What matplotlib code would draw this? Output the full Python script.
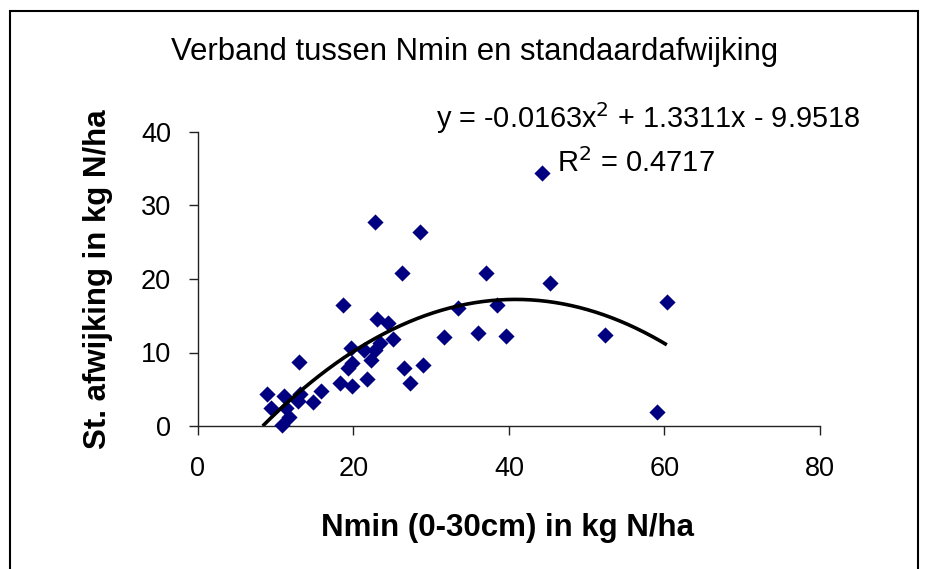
import numpy as np
import matplotlib
matplotlib.use("Agg")
import matplotlib.pyplot as plt
from matplotlib.patches import Rectangle

# Data
nmin = [8.9, 9.4, 11.0, 11.3, 11.7, 10.8, 13.0, 13.1, 12.9, 14.8, 15.8,
        18.7, 18.2, 19.8, 19.3, 19.8, 19.7, 21.3, 22.8, 22.2, 21.8, 23.0,
        24.4, 25.1, 23.4, 26.2, 22.8, 28.5, 26.5, 29.0, 27.3, 31.7, 33.5,
        36.0, 37.0, 38.5, 39.6, 44.3, 45.3, 52.3, 59.0, 60.3]
stdev = [4.3, 2.5, 4.1, 2.4, 1.2, 0.2, 8.75, 4.4, 3.4, 3.3, 4.7,
         16.4, 5.8, 5.5, 7.85, 8.6, 10.6, 10.3, 10.4, 9.0, 6.35, 14.5,
         14.0, 11.8, 11.25, 20.8, 27.8, 26.4, 7.9, 8.3, 5.8, 12.1, 16.1,
         12.7, 20.8, 16.4, 12.3, 34.4, 19.4, 12.4, 1.95, 16.9]

# Trendline coefficients (highest power first)
coef = [-0.0163, 1.3311, -9.9518]
r2 = 0.4717

title = "Verband tussen Nmin en standaardafwijking"
xlabel = "Nmin (0-30cm) in kg N/ha"
ylabel = "St. afwijking in kg N/ha"
xticks = [0, 20, 40, 60, 80]
yticks = [0, 10, 20, 30, 40]

plt.rcParams['font.family'] = ['Liberation Sans', 'DejaVu Sans']

W, H = 928, 569
fig = plt.figure(figsize=(W / 100, H / 100), dpi=100)
fig.patch.set_facecolor('white')

# outer chart border (bottom edge lies outside the image)
fig.add_artist(Rectangle((10 / W, -10 / H), 908 / W, (H - 11 + 10) / H,
                         transform=fig.transFigure, fill=False,
                         edgecolor='black', linewidth=1.5, clip_on=False))

ax = fig.add_axes([198 / W, (H - 426) / H, (820 - 198) / W, (426 - 132) / H])
ax.set_xlim(xticks[0], xticks[-1])
ax.set_ylim(yticks[0], yticks[-1])
ax.set_xticks(xticks)
ax.set_yticks(yticks)
for s in ['top', 'right']:
    ax.spines[s].set_visible(False)
for s in ['left', 'bottom']:
    ax.spines[s].set_linewidth(1.0)
    ax.spines[s].set_color('#222222')
ax.tick_params(direction='out', length=6.5, width=1.0, labelsize=19.5,
               colors='#222222', labelcolor='black')
ax.tick_params(axis='x', pad=15)
ax.tick_params(axis='y', pad=13)

ax.scatter(nmin, stdev, marker='D', s=68, color='#000080', linewidths=0,
           zorder=3, clip_on=False)

p = np.poly1d(coef)
roots = np.roots(coef)
x0 = float(np.min(roots[(roots > 0) & (roots < max(nmin))].real))
xs = np.linspace(x0, max(nmin), 200)
ax.plot(xs, p(xs), color='black', linewidth=2.6, zorder=4, solid_capstyle='butt')

fig.text(475 / W, 1 - 52 / H, title, ha='center', va='center', fontsize=22.4)
fig.text(648 / W, 1 - 118 / H,
         "y = %.4fx$^{2}$ + %.4fx - %.4f" % (coef[0], coef[1], -coef[2]),
         ha='center', va='center', fontsize=20.8)
fig.text(636 / W, 1 - 163 / H, "R$^{2}$ = %.4f" % r2, ha='center', va='center',
         fontsize=21)

fig.text(508 / W, 1 - 528 / H, xlabel, ha='center', va='center',
         fontsize=22.5, fontweight='bold')
fig.text(98 / W, 1 - 279 / H, ylabel, ha='center', va='center', rotation=90,
         fontsize=22.5, fontweight='bold')

fig.savefig("out.png", dpi=100, facecolor='white')
